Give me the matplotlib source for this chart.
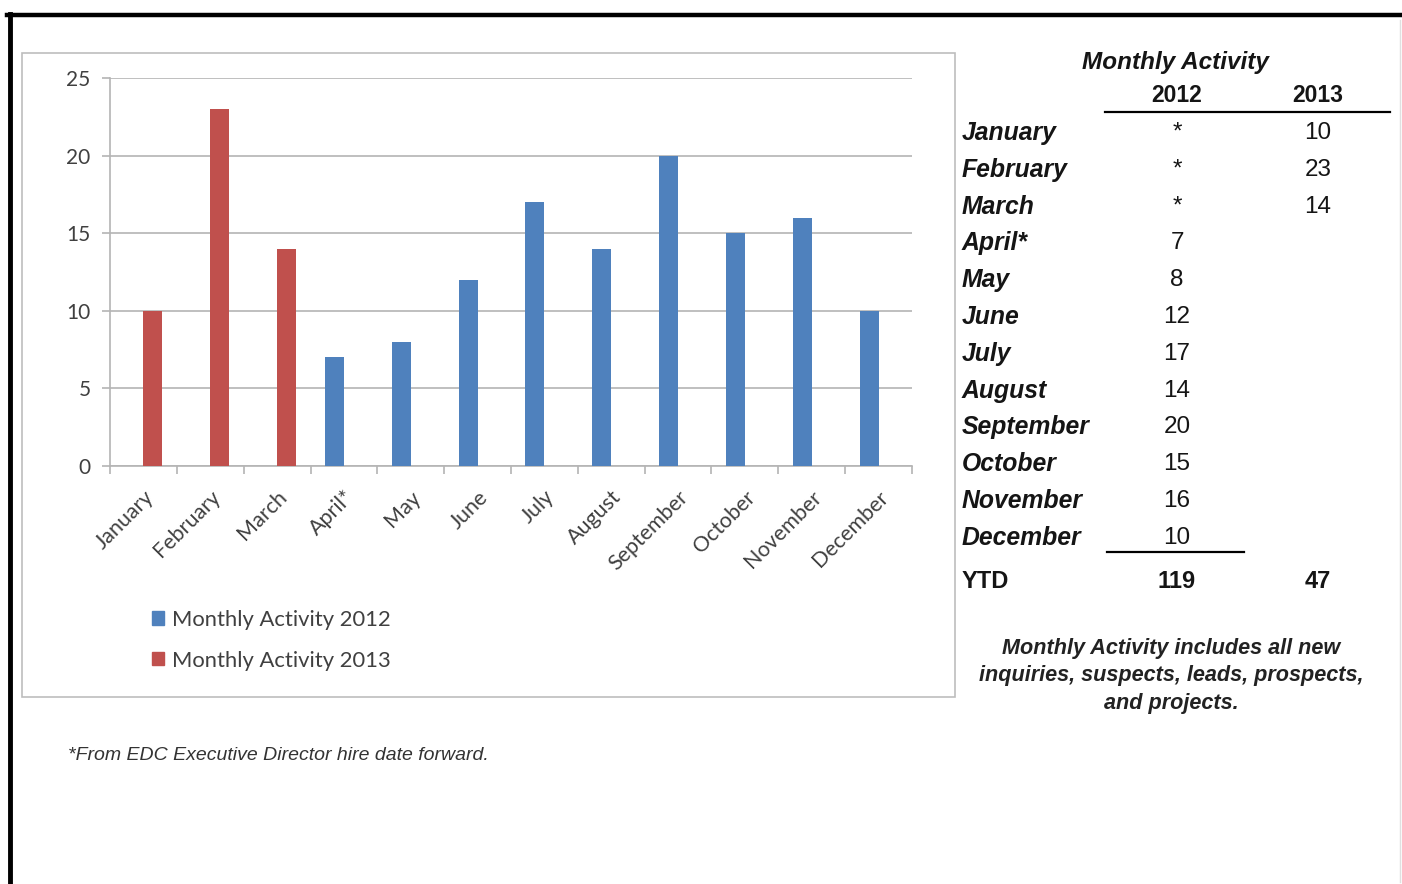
import numpy as np
import matplotlib
matplotlib.use("Agg")
import matplotlib.pyplot as plt
from matplotlib.patches import Rectangle, Patch
from matplotlib.lines import Line2D

# data
months = ["January", "February", "March", "April*", "May", "June", "July",
          "August", "September", "October", "November", "December"]
table_months = ["January", "February", "March", "April*", "May", "June", "July",
                "August", "September", "October", "November", "December"]
activity_2012 = [np.nan, np.nan, np.nan, 7, 8, 12, 17, 14, 20, 15, 16, 10]
activity_2013 = [10, 23, 14, np.nan, np.nan, np.nan, np.nan, np.nan, np.nan,
                 np.nan, np.nan, np.nan]
y_ticks = [0, 5, 10, 15, 20, 25]
series_names = ["Monthly Activity 2012", "Monthly Activity 2013"]

BLUE = "#4F81BD"
RED = "#C0504D"
GRID = "#B4B4B4"
TXT = "#404040"
W, H = 1402, 884

fig = plt.figure(figsize=(W / 100, H / 100), dpi=100)
fig.patch.set_facecolor("white")

# background layer in pixel coordinates
bg = fig.add_axes([0, 0, 1, 1])
bg.set_xlim(0, W)
bg.set_ylim(H, 0)
bg.axis("off")

# page frame
bg.add_line(Line2D([7, W], [15, 15], color="black", lw=3.2))
bg.add_line(Line2D([9.5, 9.5], [14, H], color="black", lw=3.5))
bg.add_line(Line2D([W - 2, W - 2], [20, H - 2], color="#E0E0E0", lw=1))

# chart box
bg.add_patch(Rectangle((22, 53), 933, 644, fill=False, ec="#BDBDBD", lw=1.2))

# bar chart
ax = fig.add_axes([110 / W, (H - 466) / H, 802 / W, 388 / H])
x = np.arange(len(months))
bw = 0.285
v12 = np.array(activity_2012, dtype=float)
v13 = np.array(activity_2013, dtype=float)
m12 = ~np.isnan(v12)
m13 = ~np.isnan(v13)
ax.bar(x[m12] - bw / 2, v12[m12], width=bw, color=BLUE, zorder=3)
ax.bar(x[m13] + bw / 2, v13[m13], width=bw, color=RED, zorder=3)

ax.set_xlim(-0.5, len(months) - 0.5)
ax.set_ylim(0, 25)
ax.set_yticks(y_ticks)
ax.set_yticklabels([str(t) for t in y_ticks])
ax.set_xticks(x)
ax.set_xticklabels(months, rotation=45, ha="right", rotation_mode="anchor")
ax.set_xticks(np.arange(-0.5, len(months)), minor=True)
ax.tick_params(axis="x", which="major", length=0, pad=15)
ax.tick_params(axis="x", which="minor", length=6, color=GRID, width=1.2)
ax.tick_params(axis="y", length=6, color=GRID, width=1.2, pad=8)
for lab in ax.get_xticklabels():
    lab.set_fontfamily("Lato")
    lab.set_fontsize(15.5)
    lab.set_color(TXT)
for lab in ax.get_yticklabels():
    lab.set_fontfamily("Lato")
    lab.set_fontsize(15)
    lab.set_color(TXT)
ax.grid(axis="y", color=GRID, lw=1.2, zorder=0)
for s in ["top", "right"]:
    ax.spines[s].set_visible(False)
for s in ["left", "bottom"]:
    ax.spines[s].set_color(GRID)
    ax.spines[s].set_linewidth(1.2)

handles = [Patch(color=BLUE), Patch(color=RED)]
leg = fig.legend(handles, series_names, loc="upper left",
                 bbox_to_anchor=(132 / W, (H - 590) / H),
                 frameon=False, handlelength=0.55, handleheight=0.55,
                 handletextpad=0.35, labelspacing=0.95,
                 prop={"family": "Lato", "size": 15.8})
for t in leg.get_texts():
    t.set_color(TXT)

# footnote
bg.text(68, 756, "*From EDC Executive Director hire date forward.",
        fontfamily="Liberation Sans", style="italic", fontsize=14,
        color="#333333", va="center", ha="left")

# table on the right
tf = "Liberation Sans"
tc = "#151515"
bg.text(1175, 62, "Monthly Activity", fontfamily=tf, fontsize=17.5,
        weight="bold", style="italic", ha="center", va="center", color=tc)
bg.text(1177, 96, "2012", fontfamily=tf, fontsize=16.5, weight="bold",
        ha="center", va="center", color=tc)
bg.text(1318, 96, "2013", fontfamily=tf, fontsize=16.5, weight="bold",
        ha="center", va="center", color=tc)
bg.add_line(Line2D([1105, 1390], [112, 112], color="black", lw=1.6))

for i, name in enumerate(table_months):
    yy = 133 + i * 36.8
    bg.text(962, yy, name, fontfamily=tf, fontsize=17.8, weight="bold",
            style="italic", ha="left", va="center", color=tc)
    a = activity_2012[i]
    b = activity_2013[i]
    bg.text(1177, yy, "*" if np.isnan(a) else str(int(a)), fontfamily=tf,
            fontsize=17.5, ha="center", va="center", color=tc)
    if not np.isnan(b):
        bg.text(1318, yy, str(int(b)), fontfamily=tf, fontsize=17.5,
                ha="center", va="center", color=tc)

bg.add_line(Line2D([1107, 1244], [552, 552], color="black", lw=1.6))
ytd12 = int(np.nansum(v12))
ytd13 = int(np.nansum(v13))
bg.text(962, 582, "YTD", fontfamily=tf, fontsize=17, weight="bold",
        ha="left", va="center", color=tc)
bg.text(1177, 582, str(ytd12), fontfamily=tf, fontsize=17, weight="bold",
        ha="center", va="center", color=tc)
bg.text(1318, 582, str(ytd13), fontfamily=tf, fontsize=17, weight="bold",
        ha="center", va="center", color=tc)

note = ("Monthly Activity includes all new\n"
        "inquiries, suspects, leads, prospects,\n"
        "and projects.")
bg.text(1171, 676, note, fontfamily=tf, fontsize=15.6, weight="bold",
        style="italic", ha="center", va="center", color="#222222",
        linespacing=1.4)

fig.savefig("out.png", dpi=100)
